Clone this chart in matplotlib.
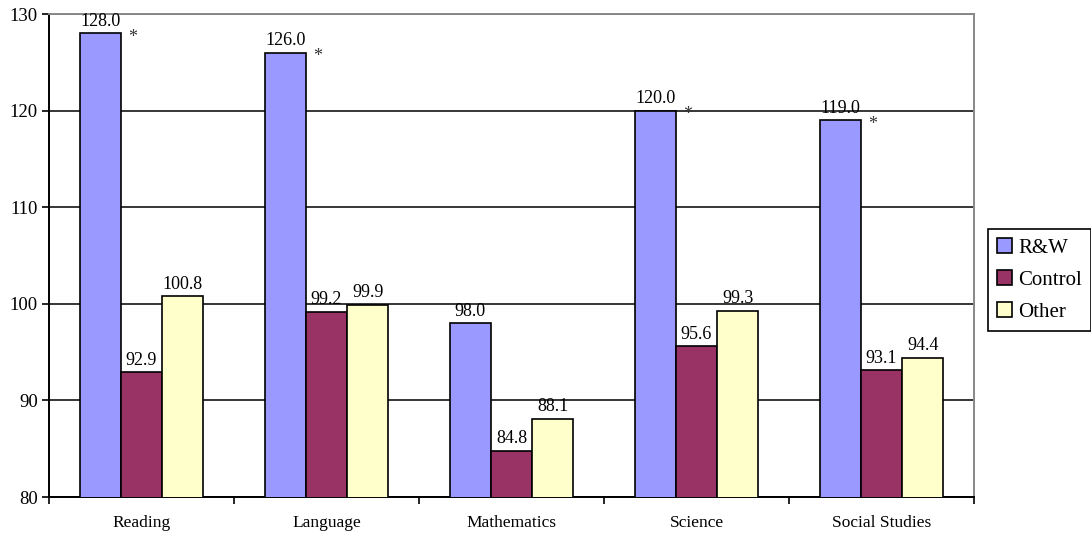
import numpy as np
import matplotlib
matplotlib.use("Agg")
import matplotlib.pyplot as plt
from matplotlib.ticker import FixedLocator, NullFormatter

plt.rcParams['font.family'] = ['Liberation Serif', 'DejaVu Serif']

subjects = ["Reading", "Language", "Mathematics", "Science", "Social Studies"]
rw = [128.0, 126.0, 98.0, 120.0, 119.0]
control = [92.9, 99.2, 84.8, 95.6, 93.1]
other = [100.8, 99.9, 88.1, 99.3, 94.4]
significant = [True, True, False, True, True]

series = [("R&W", rw, "#9999FF"),
          ("Control", control, "#993366"),
          ("Other", other, "#FFFFCC")]

fig = plt.figure(figsize=(10.91, 5.35), dpi=100)
ax = fig.add_axes([49 / 1091, 1 - 497 / 535, 925 / 1091, 483 / 535])

x = np.arange(len(subjects))
width = 1 / 4.5

for i, (name, vals, color) in enumerate(series):
    pos = x + (i - 1) * width
    ax.bar(pos, vals, width, bottom=0, color=color, edgecolor="black",
           linewidth=1.2, label=name, zorder=3)
    for px, v in zip(pos, vals):
        ax.annotate(f"{v:.1f}", (px, v), xytext=(0, 2.5), textcoords="offset points",
                    ha="center", va="bottom", fontsize=13, zorder=4)

# asterisks next to the significant R&W scores
for px, v, sig in zip(x - width, rw, significant):
    if sig:
        ax.annotate("*", (px + width / 2, v), xytext=(8.5, -3), textcoords="offset points",
                    ha="center", va="center", fontsize=13, color="#333333", zorder=4)

ax.set_ylim(80, 130)
ax.set_xlim(-0.5, len(subjects) - 0.5)
ax.set_yticks([80, 90, 100, 110, 120, 130])
ax.grid(axis="y", color="black", linewidth=1.1, zorder=1)
ax.set_axisbelow(True)

ax.set_xticks(x)
ax.set_xticklabels(subjects, fontsize=12.5)
ax.tick_params(axis="x", which="major", length=0, pad=13)
ax.xaxis.set_minor_locator(FixedLocator(np.arange(-0.5, len(subjects), 1.0)))
ax.xaxis.set_minor_formatter(NullFormatter())
ax.tick_params(axis="x", which="minor", length=5, width=1.2, direction="out")
ax.tick_params(axis="y", length=5, width=1.2, direction="out", labelsize=13.5, pad=3)

for side in ("left", "bottom"):
    ax.spines[side].set_color("black")
    ax.spines[side].set_linewidth(1.4)
for side in ("top", "right"):
    ax.spines[side].set_color("#888888")
    ax.spines[side].set_linewidth(1.4)

leg = fig.legend(loc="center left", bbox_to_anchor=(988 / 1091, 1 - 280 / 535),
                 fontsize=15, handlelength=0.7, handleheight=0.7,
                 handletextpad=0.3, labelspacing=0.6, borderpad=0.45,
                 borderaxespad=0, fancybox=False, edgecolor="black", framealpha=1)
leg.get_frame().set_linewidth(1.2)

fig.savefig("out.png", dpi=100)
